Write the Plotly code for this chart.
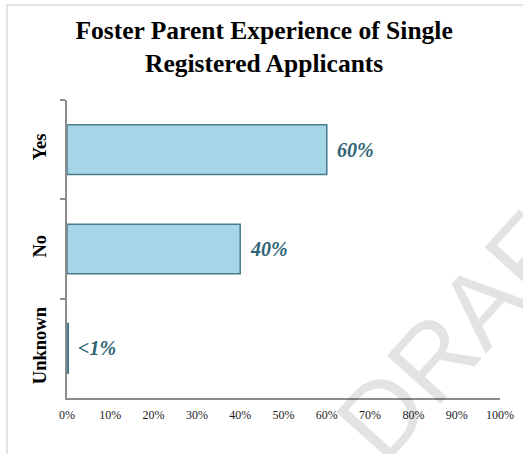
import plotly.graph_objects as go

categories = ["Yes", "No", "Unknown"]
values = [60, 40, 0.3]
labels = ["60%", "40%", "<1%"]
x_ticks = [0, 10, 20, 30, 40, 50, 60, 70, 80, 90, 100]
x_tick_text = ["0%", "10%", "20%", "30%", "40%", "50%", "60%", "70%", "80%", "90%", "100%"]

bar_fill = "#A5D5E6"
bar_edge = "#4A7B8C"
label_col = "#2F6373"
axis_col = "#8C8C8C"
serif = "Liberation Serif, Times New Roman, serif"

fig = go.Figure()
fig.add_trace(go.Bar(
    x=values, y=categories, orientation="h", width=0.5,
    marker=dict(color=bar_fill, line=dict(color=bar_edge, width=1.5)),
    hoverinfo="skip",
))

# DRAFT watermark - translucent so tick labels under it stay dark
fig.add_annotation(
    xref="paper", yref="paper", x=1.317, y=-0.29, text="DRAFT", showarrow=False,
    textangle=-48, font=dict(family="Liberation Sans, Arial, sans-serif", size=105,
                             color="rgba(0,0,0,0.11)"),
)

# value labels to the right of each bar
for cat, val, lab in zip(categories, values, labels):
    fig.add_annotation(
        x=val, y=cat, text=lab, showarrow=False, xanchor="left", xshift=8,
        font=dict(family=serif, size=20, color=label_col, weight="bold", style="italic"),
    )

# page border
fig.add_shape(type="rect", xref="paper", yref="paper", x0=-0.1386, x1=1.2, y0=-0.5, y1=1.3188,
              line=dict(color="#D9D9D9", width=1.5), layer="below")

fig.update_layout(
    width=523, height=454,
    margin=dict(l=67, r=23, t=100, b=56, autoexpand=False),
    paper_bgcolor="white", plot_bgcolor="white",
    showlegend=False,
    title=dict(
        text="Foster Parent Experience of Single<br>Registered Applicants",
        x=0.505, xanchor="center", y=0.914, yanchor="top",
        font=dict(family=serif, size=25.5, color="black", weight="bold"),
    ),
    xaxis=dict(
        range=[0, 100], tickvals=x_ticks, ticktext=x_tick_text, showgrid=False, zeroline=False,
        showline=True, linecolor=axis_col, linewidth=2, ticks="", automargin=False,
        ticklabelstandoff=5,
        tickfont=dict(family=serif, size=12, color="#222"),
    ),
    yaxis=dict(
        categoryorder="array", categoryarray=categories, range=[2.5, -0.5],
        showgrid=False, zeroline=False, showline=True, linecolor=axis_col, linewidth=2,
        ticks="outside", ticklen=5, tickcolor=axis_col, tickwidth=1.5, tickson="boundaries",
        tickangle=-90, ticklabelstandoff=12, automargin=False,
        tickfont=dict(family=serif, size=18.5, color="black", weight="bold"),
    ),
)

# drop the default page margin so the figure sits at the window's corner
fig.write_html("out.html", config={"displayModeBar": False},
               post_script="document.body.style.margin='0';")
